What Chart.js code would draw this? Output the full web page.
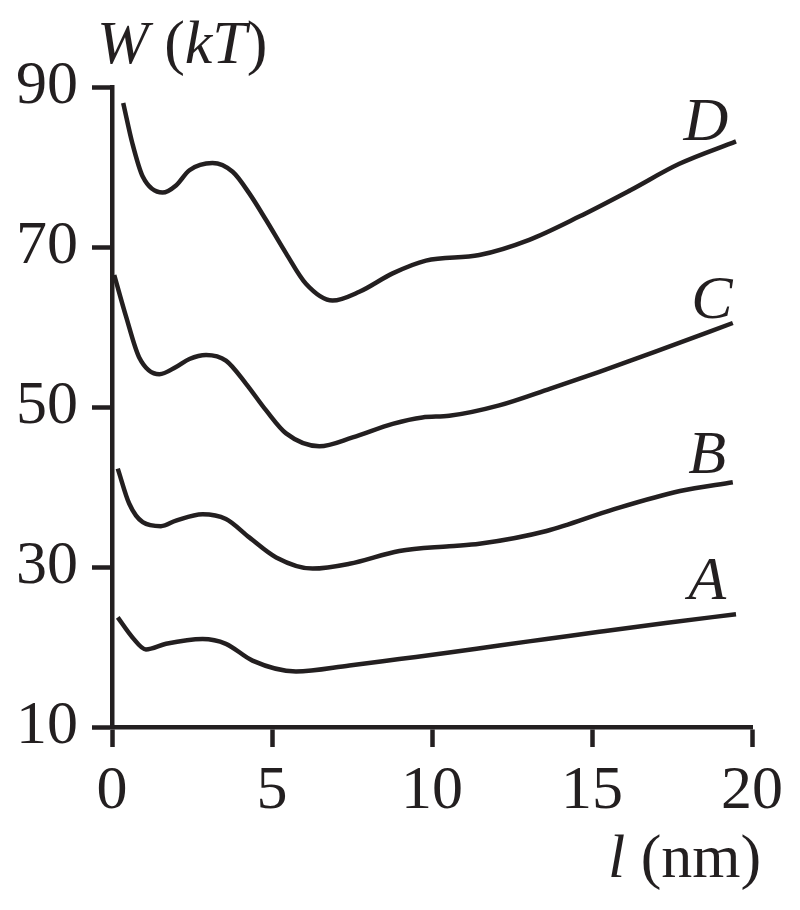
<!DOCTYPE html>
<html>
<head>
<meta charset="utf-8">
<script src="https://cdn.jsdelivr.net/npm/chart.js@4"></script>
<style>
  html, body { margin: 0; padding: 0; background: #fff; }
  #wrap { width: 800px; height: 910px; position: relative; }
</style>
</head>
<body>
<div id="wrap"><canvas id="chart"></canvas></div>
<script>
// curve readings, l (nm) vs W (kT)
const xA = [0.18, 0.64, 1.06, 1.69, 2.83, 3.56, 4.39, 5.75, 7.42, 8.98, 10.54, 12.1, 13.58, 15.23, 17.3, 19.5];
const yA = [23.7, 21.2, 19.7, 20.4, 21.0, 20.4, 18.3, 16.95, 17.7, 18.5, 19.3, 20.2, 21.0, 21.9, 23.0, 24.1];

const xB = [0.18, 0.54, 0.96, 1.53, 2.0, 2.83, 3.56, 4.29, 5.13, 6.27, 7.42, 8.98, 10.54, 11.48, 13.58, 15.67, 17.75, 19.4];
const yB = [42.3, 37.9, 35.6, 35.1, 35.8, 36.6, 36.0, 33.7, 31.2, 29.8, 30.4, 32.0, 32.6, 32.9, 34.5, 37.2, 39.5, 40.6];

const xC = [0.07, 0.44, 0.85, 1.48, 2.0, 2.42, 2.94, 3.56, 4.19, 4.81, 5.44, 6.48, 7.52, 8.77, 9.7, 10.54, 12.1, 13.7, 15.23, 17.3, 19.4];
const yC = [66.5, 61.3, 56.2, 54.1, 55.0, 56.0, 56.5, 55.8, 52.9, 49.6, 46.7, 45.1, 46.2, 47.9, 48.7, 48.9, 50.2, 52.3, 54.4, 57.4, 60.5];

const xD = [0.35, 0.64, 0.96, 1.58, 2.0, 2.42, 3.14, 3.77, 4.29, 4.81, 5.44, 6.06, 6.89, 7.73, 8.77, 9.81, 11.48, 13.04, 14.6, 16.2, 17.73, 19.5];
const yD = [88.0, 82.9, 78.8, 76.8, 77.7, 79.6, 80.5, 79.4, 76.7, 73.4, 69.2, 65.4, 63.3, 64.4, 66.7, 68.3, 69.0, 70.9, 73.8, 77.1, 80.4, 83.2];

// curve name labels: text, x, y (baseline) in data units
const curveNames = ['A', 'B', 'C', 'D'];
const nameX = [18.6, 18.6, 18.75, 18.56];
const nameY = [26.0, 41.7, 61.1, 83.4];

const ink = '#231f20';
const serif = '"Liberation Serif", "Times New Roman", serif';

function toPoints(xs, ys) {
    return xs.map((x, i) => ({ x: x, y: ys[i] }));
}

function curve(label, xs, ys) {
    return {
        label: label,
        data: toPoints(xs, ys),
        borderColor: ink,
        borderWidth: 4.5,
        pointRadius: 0,
        fill: false,
        cubicInterpolationMode: 'monotone'
    };
}

// titles and curve names drawn as text on top
const textPlugin = {
    id: 'textPlugin',
    afterDraw(chart) {
        const ctx = chart.ctx;
        const area = chart.chartArea;
        const sx = chart.scales.x, sy = chart.scales.y;
        ctx.save();
        ctx.fillStyle = ink;
        ctx.textBaseline = 'alphabetic';

        // curve names
        ctx.font = 'italic 62px ' + serif;
        ctx.textAlign = 'center';
        curveNames.forEach((n, i) => {
            ctx.fillText(n, sx.getPixelForValue(nameX[i]), sy.getPixelForValue(nameY[i]));
        });

        // mixed italic / upright title pieces
        function runs(parts, x, y) {
            ctx.textAlign = 'left';
            parts.forEach(p => {
                ctx.font = (p[1] ? 'italic ' : '') + '62px ' + serif;
                ctx.fillText(p[0], x, y);
                x += ctx.measureText(p[0]).width;
            });
        }
        runs([['W', true], [' (', false], ['kT', true], [')', false]], area.left - 15, area.top - 24);
        runs([['l', true], [' (nm)', false]], area.right - 144, area.bottom + 150);
        ctx.restore();
    }
};

new Chart(document.getElementById('chart'), {
    type: 'line',
    data: {
        datasets: [
            curve('A', xA, yA),
            curve('B', xB, yB),
            curve('C', xC, yC),
            curve('D', xD, yD)
        ]
    },
    options: {
        responsive: true,
        maintainAspectRatio: false,
        animation: false,
        layout: { padding: { top: 87, right: 48, left: 0, bottom: 0 } },
        plugins: {
            legend: { display: false },
            tooltip: { enabled: false }
        },
        scales: {
            x: {
                type: 'linear',
                min: 0,
                max: 20,
                afterFit: s => { s.height = 183; },
                border: { display: true, color: ink, width: 4.5 },
                grid: { drawOnChartArea: false, drawTicks: true, tickLength: 20, tickWidth: 4.5, tickColor: ink },
                ticks: { stepSize: 5, color: ink, padding: 8, font: { family: serif, size: 62 } }
            },
            y: {
                min: 10,
                max: 90,
                afterFit: s => { s.width = 112; },
                border: { display: true, color: ink, width: 4.5 },
                grid: { drawOnChartArea: false, drawTicks: true, tickLength: 20, tickWidth: 4.5, tickColor: ink },
                ticks: { stepSize: 20, color: ink, padding: 14, font: { family: serif, size: 62 } }
            }
        }
    },
    plugins: [textPlugin]
});
</script>
</body>
</html>
